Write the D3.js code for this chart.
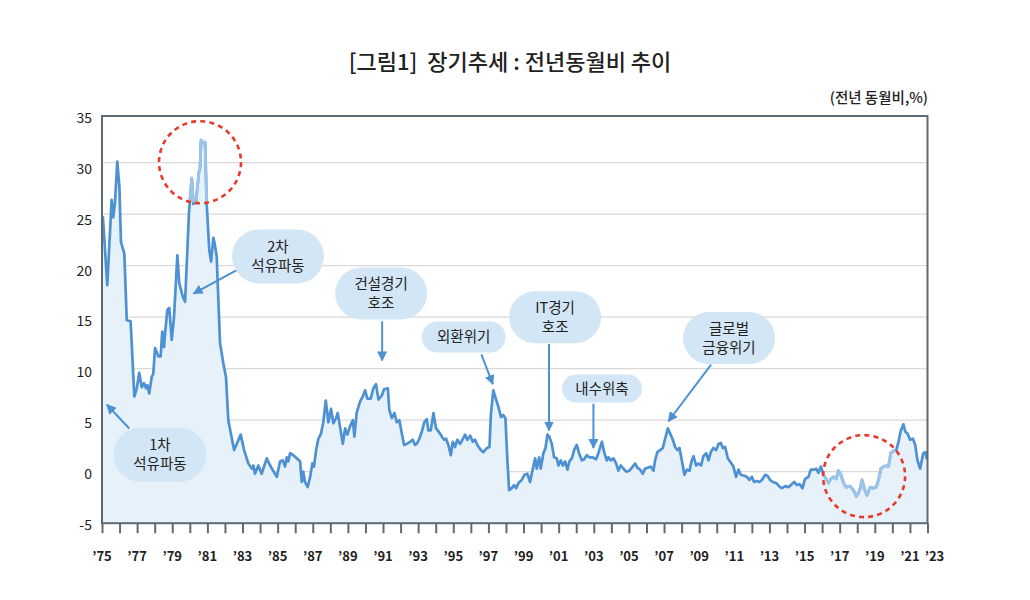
<!DOCTYPE html>
<html><head><meta charset="utf-8">
<script src="https://cdn.jsdelivr.net/npm/d3@7"></script>
<style>
body{margin:0;background:#fff;}
text{font-family:"Noto Sans CJK KR","Noto Sans",sans-serif;}
</style>
</head><body>
<svg id="chart" width="1030" height="600"></svg>
<script>
// ---- data (decimal year, YoY %) ----
const dates = [1975.05,1975.30,1975.55,1975.64,1975.74,1975.87,1975.99,1976.08,1976.27,1976.41,1976.63,1976.84,1976.98,
1977.12,1977.26,1977.39,1977.51,1977.58,1977.69,1977.83,1977.92,1978.02,1978.21,1978.34,1978.43,1978.53,1978.59,1978.72,1978.83,1978.97,
1979.10,1979.29,1979.40,1979.60,1979.73,1979.86,1979.95,1980.11,1980.20,1980.35,1980.52,1980.58,1980.64,1980.77,1980.87,1980.96,
1981.11,1981.21,1981.34,1981.40,1981.53,1981.72,1981.91,1982.06,1982.19,1982.52,1982.90,1983.09,1983.33,1983.53,1983.62,1983.71,1983.90,
1984.09,1984.38,1984.57,1984.95,1985.14,1985.29,1985.42,1985.52,1985.61,1985.71,1985.89,1986.09,1986.28,1986.37,1986.46,1986.56,1986.71,1986.85,1986.98,
1987.07,1987.19,1987.32,1987.47,1987.60,1987.74,1987.89,1988.04,1988.17,1988.33,1988.42,1988.55,1988.71,1988.84,1988.97,
1989.12,1989.28,1989.37,1989.50,1989.69,1989.85,1989.98,1990.11,1990.30,1990.45,1990.60,1990.74,1990.93,
1991.06,1991.27,1991.36,1991.50,1991.65,1991.78,1991.93,1992.07,1992.20,1992.35,1992.54,1992.69,1992.82,1992.92,
1993.07,1993.21,1993.35,1993.49,1993.58,1993.72,1993.87,1994.02,1994.25,1994.35,1994.48,1994.59,1994.72,1994.86,1994.97,
1995.10,1995.23,1995.39,1995.52,1995.67,1995.80,1995.96,1996.11,1996.24,1996.37,1996.57,1996.71,1996.91,
1997.06,1997.14,1997.28,1997.42,1997.57,1997.72,1997.85,1997.97,1998.08,1998.18,1998.33,1998.46,1998.58,1998.71,1998.90,
1999.05,1999.22,1999.37,1999.53,1999.66,1999.75,1999.89,1999.98,2000.13,2000.25,2000.36,2000.47,2000.61,2000.74,2000.89,2000.99,
2001.12,2001.24,2001.37,2001.50,2001.61,2001.75,2001.88,2002.03,2002.16,2002.32,2002.45,2002.60,2002.75,2002.94,
2003.13,2003.26,2003.46,2003.59,2003.74,2003.83,2003.97,2004.12,2004.27,2004.40,2004.54,2004.69,2004.84,
2005.03,2005.17,2005.35,2005.48,2005.64,2005.79,2005.92,2006.11,2006.25,2006.40,2006.49,2006.62,2006.78,2006.93,
2007.06,2007.22,2007.35,2007.50,2007.63,2007.76,2007.88,2008.01,2008.16,2008.30,2008.45,2008.58,2008.68,2008.83,2008.96,
2009.11,2009.24,2009.40,2009.53,2009.66,2009.81,2009.97,2010.10,2010.23,2010.35,2010.48,2010.63,2010.80,2010.95,
2011.10,2011.24,2011.37,2011.56,2011.71,2011.86,2012.00,2012.13,2012.28,2012.43,2012.57,2012.76,2012.89,
2013.04,2013.19,2013.38,2013.61,2013.71,2013.90,2014.09,2014.28,2014.41,2014.56,2014.71,2014.88,
2015.03,2015.22,2015.36,2015.55,2015.66,2015.79,2015.93,2016.08,2016.23,2016.36,2016.50,2016.65,2016.80,2016.93,
2017.07,2017.22,2017.37,2017.60,2017.79,2017.95,2018.14,2018.27,2018.40,2018.55,2018.74,2018.90,
2019.08,2019.21,2019.35,2019.49,2019.69,2019.78,2019.91,2020.06,2020.22,2020.35,2020.48,2020.63,2020.73,2020.86,
2021.01,2021.17,2021.30,2021.43,2021.58,2021.76,2021.89,2021.96];
const values = [24.8,18.1,26.4,24.7,26.2,30.1,27.7,22.3,21.2,14.7,14.6,7.3,8.1,
9.6,8.2,8.6,8.1,8.4,7.6,9.2,9.5,12.0,11.2,11.2,13.6,12.1,13.4,15.7,15.9,12.8,
15.0,21.0,18.3,17.0,16.5,21.5,25.1,28.5,26.0,26.2,29.1,29.4,32.2,31.9,32.0,26.0,
21.5,20.4,22.7,22.3,20.9,12.5,10.5,9.2,5.0,2.1,3.6,2.1,0.8,0.3,0.6,-0.2,0.6,
-0.2,1.3,0.6,-0.5,1.0,1.1,0.5,1.4,1.0,1.8,1.6,1.3,1.0,-1.0,0.0,-1.0,-1.5,-0.5,0.8,
0.5,2.1,3.2,3.7,4.8,6.9,4.8,6.1,4.7,5.2,5.7,4.4,2.7,4.2,3.6,
4.4,5.0,3.4,5.7,6.8,7.3,7.9,7.1,7.1,8.1,8.5,7.0,7.4,
8.0,8.1,6.0,5.2,5.7,4.8,5.0,3.7,2.6,2.7,2.9,3.1,2.6,2.7,
3.2,3.9,4.8,5.1,4.0,4.0,5.7,4.2,3.7,3.4,3.1,3.2,2.6,1.6,2.9,
2.4,3.1,2.7,3.1,3.6,3.1,3.5,2.9,3.1,2.6,2.1,1.9,2.3,
2.4,5.5,7.9,7.1,6.3,5.3,5.5,5.2,1.1,-1.8,-1.6,-1.3,-1.6,-1.1,-0.8,
-0.3,-0.2,-1.0,0.3,1.3,0.3,1.4,0.3,1.8,2.3,3.6,3.4,2.7,1.4,1.3,0.6,
1.1,0.6,1.0,0.2,1.0,1.3,2.1,2.6,1.8,1.1,1.2,1.6,1.4,1.4,
1.2,1.8,2.9,1.9,1.1,1.4,1.1,1.3,0.8,0.1,0.6,0.3,0.0,
0.1,0.4,0.8,0.4,0.2,-0.2,0.3,0.4,0.5,0.1,1.1,1.9,2.1,2.3,
3.2,4.2,3.7,3.1,2.4,2.1,2.3,1.1,-0.3,0.2,0.1,1.1,1.5,0.6,0.8,
0.6,1.5,1.8,1.1,1.9,2.3,2.1,2.7,2.8,2.3,2.4,1.3,0.9,0.5,
-0.5,0.2,-0.3,-0.4,-0.5,-0.8,-0.5,-1.0,-0.9,-1.0,-0.8,-0.3,-0.4,
-0.8,-1.0,-1.1,-1.5,-1.6,-1.4,-1.5,-1.2,-1.0,-1.3,-1.2,-1.6,
-0.7,-0.5,0.2,0.2,0.3,-0.1,0.5,-0.3,-0.7,-1.1,-0.7,-0.5,-0.7,0.1,
-0.3,-1.1,-1.5,-1.4,-1.8,-2.4,-1.8,-0.8,-1.6,-2.3,-1.5,-1.6,
-1.5,-0.8,0.3,0.5,0.6,0.5,1.8,2.0,2.1,2.9,4.0,4.6,3.9,3.7,
3.1,3.2,2.6,1.1,0.3,1.8,1.9,1.2];

const yTicks = [-5,0,5,10,15,20,25,30,35];
const tickYears = d3.range(1975, 2023);
const labelYears = [1975,1977,1979,1981,1983,1985,1987,1989,1991,1993,1995,1997,1999,2001,2003,2005,2007,2009,2011,2013,2015,2017,2019,2021,2023];

const titleText = "[그림1]  장기추세 : 전년동월비 추이";
const unitText = "(전년 동월비,%)";

// annotation: label lines, bubble centre (year,value), arrow start (year,value), arrow tip (year,value)
const notes = [
  {lines:["1차","석유파동"], bx:1978.3, by:1.65, w:93, h:54, sx:1976.55, sy:4.2, tx:1975.28, ty:6.5},
  {lines:["2차","석유파동"], bx:1985.02, by:20.9, w:92, h:54, sx:1982.7, sy:19.6, tx:1980.21, ty:17.3},
  {lines:["건설경기","호조"], bx:1990.89, by:17.3, w:92, h:52, sx:1990.95, sy:14.6, tx:1990.95, ty:10.8},
  {lines:["외환위기"], bx:1995.59, by:13.07, w:84, h:31, sx:1996.6, sy:11.4, tx:1997.25, ty:8.5},
  {lines:["IT경기","호조"], bx:2000.8, by:15.0, w:92, h:52, sx:2000.45, sy:12.4, tx:2000.45, ty:4.0},
  {lines:["내수위축"], bx:2003.47, by:8.07, w:80, h:28, sx:2002.98, sy:6.6, tx:2002.98, ty:2.3},
  {lines:["글로벌","금융위기"], bx:2010.7, by:12.97, w:92, h:52, sx:2009.68, sy:10.4, tx:2007.25, ty:4.9}
];
const circles = [{cx:1980.58, cy:30.05}, {cx:2018.39, cy:-0.43}];

// ---- drawing ----
const svg = d3.select("#chart");
const L = 102, R = 927.5;
const x = d3.scaleLinear().domain([1975, 2022]).range([L, R]);
const y = d3.scaleLinear().domain([-5, 35]).range([523.2, 111.2]);
const yLabel = d3.scaleLinear().domain([-5, 35]).range([525, 118]);
const plotTop = 116, plotBottom = y(-5);

const data = dates.map((d,i)=>({d, v:values[i]}));

// grid
svg.append("g").selectAll("line").data(yTicks.filter(t=>t>-5 && t<35)).join("line")
  .attr("x1", L).attr("x2", R).attr("y1", d=>y(d)).attr("y2", d=>y(d))
  .attr("stroke", "#d9d9d9").attr("stroke-width", 1.2);

// area
const area = d3.area().x(d=>x(d.d)).y0(plotBottom).y1(d=>y(d.v));
svg.append("path").datum(data).attr("d", area).attr("fill", "#e6f1fa");

// line
const line = d3.line().x(d=>x(d.d)).y(d=>y(d.v));
svg.append("path").datum(data).attr("d", line).attr("fill","none")
  .attr("stroke", "#4d91d3").attr("stroke-width", 2.7).attr("stroke-linejoin","round");

// lighter segment inside highlight circles
const defs = svg.append("defs");
const cp = defs.append("clipPath").attr("id","hl");
circles.forEach(c=>cp.append("circle").attr("cx", x(c.cx)).attr("cy", y(c.cy)).attr("r", 41));
svg.append("path").datum(data).attr("d", line).attr("fill","none").attr("clip-path","url(#hl)")
  .attr("stroke", "#9cc3ea").attr("stroke-width", 2.9).attr("stroke-linejoin","round");

// frame
svg.append("rect").attr("x", L).attr("y", plotTop).attr("width", R-L).attr("height", plotBottom-plotTop)
  .attr("fill","none").attr("stroke","#5f6a74").attr("stroke-width", 2);

// x axis ticks
const xAxis = d3.axisBottom(x).tickValues(tickYears).tickSize(10).tickFormat("");
const gx = svg.append("g").attr("transform", `translate(0,${plotBottom})`).call(xAxis);
gx.select(".domain").remove();
gx.selectAll(".tick line").attr("stroke","#5f6a74").attr("stroke-width",2);

svg.append("g").selectAll("text").data(labelYears).join("text")
  .attr("x", d=>Math.min(x(d), x(2022)+7)).attr("y", 561)
  .attr("text-anchor","middle").attr("font-size", 13).attr("font-weight", 700).attr("fill","#222")
  .text(d=>"’" + String(d).slice(2));

// y axis labels
const yAxis = d3.axisLeft(yLabel).tickValues(yTicks).tickSize(0).tickPadding(10).tickFormat(d=>d);
const gy = svg.append("g").attr("transform", `translate(${L},0)`).call(yAxis);
gy.select(".domain").remove();
gy.selectAll("text").attr("font-size", 14).attr("fill","#222")
  .attr("font-family", '"Noto Sans CJK KR","Noto Sans",sans-serif');

// title and unit
svg.append("text").attr("x", 510).attr("y", 70).attr("text-anchor","middle")
  .style("white-space","pre")
  .attr("font-size", 22).attr("font-weight", 500).attr("fill","#222").text(titleText);
svg.append("text").attr("x", 928).attr("y", 103).attr("text-anchor","end")
  .attr("font-size", 14.5).attr("font-weight", 500).attr("fill","#222").text(unitText);

// circles
svg.append("g").selectAll("circle").data(circles).join("circle")
  .attr("cx", d=>x(d.cx)).attr("cy", d=>y(d.cy)).attr("r", 41)
  .attr("fill","none").attr("stroke","#e8392c").attr("stroke-width", 2.6).attr("stroke-dasharray","5 4.2");

// arrows
const mk = defs.append("marker").attr("id","arr").attr("viewBox","0 0 10 10").attr("refX",9).attr("refY",5)
  .attr("markerWidth",5).attr("markerHeight",5).attr("orient","auto");
mk.append("path").attr("d","M0,0L10,5L0,10z").attr("fill","#4d91d3");
svg.append("g").selectAll("line").data(notes).join("line")
  .attr("x1", d=>x(d.sx)).attr("y1", d=>y(d.sy)).attr("x2", d=>x(d.tx)).attr("y2", d=>y(d.ty))
  .attr("stroke","#4d91d3").attr("stroke-width", 2).attr("marker-end","url(#arr)");

// bubbles
const nb = svg.append("g").selectAll("g").data(notes).join("g")
  .attr("transform", d=>`translate(${x(d.bx)},${y(d.by)})`);
nb.append("rect").attr("x", d=>-d.w/2).attr("y", d=>-d.h/2).attr("width", d=>d.w).attr("height", d=>d.h)
  .attr("rx", d=>d.h/2).attr("ry", d=>d.h/2).attr("fill","#d3e6f6");
nb.each(function(d){
  const g = d3.select(this);
  const n = d.lines.length, lh = 19;
  d.lines.forEach((t,i)=>{
    g.append("text").attr("x",0).attr("y", (i-(n-1)/2)*lh).attr("dy","0.35em")
      .attr("text-anchor","middle").attr("font-size", 14.5).attr("fill","#222").text(t);
  });
});
</script>
</body></html>
